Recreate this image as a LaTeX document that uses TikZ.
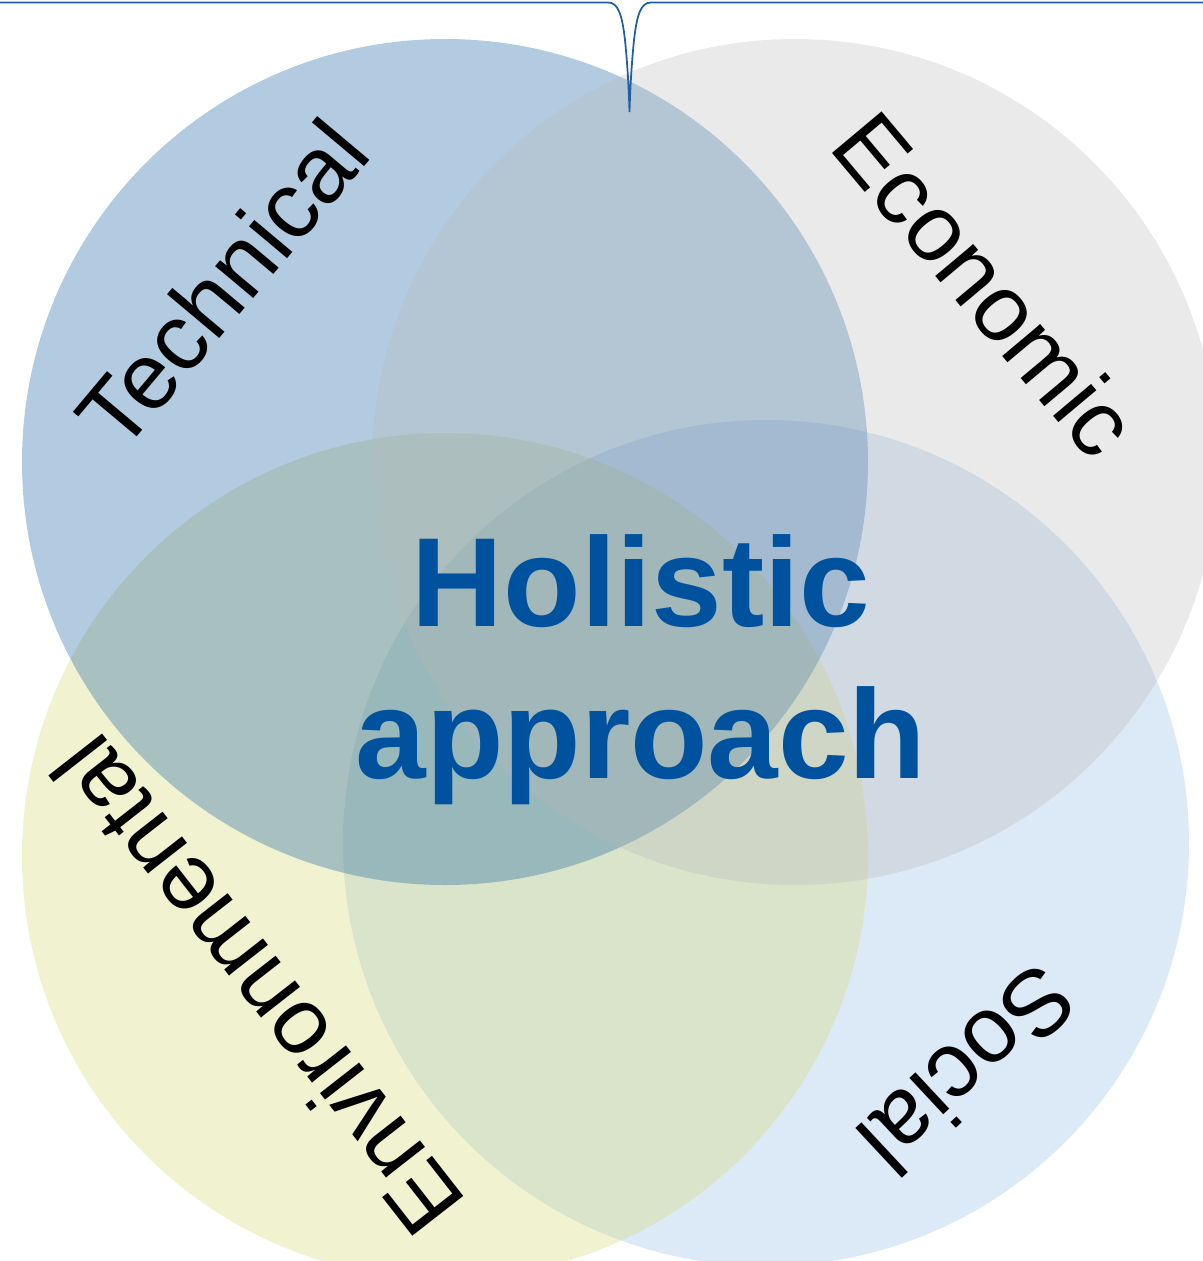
\documentclass[tikz,border=0pt]{standalone}
\usepackage{fontspec}
\setmainfont{Liberation Sans}
\usetikzlibrary{positioning,calc}
\definecolor{techblue}{RGB}{2,82,155}
\definecolor{econgrey}{RGB}{185,185,185}
\definecolor{envgreen}{RGB}{214,220,128}
\definecolor{socblue}{RGB}{138,182,225}
\definecolor{holblue}{RGB}{0,82,158}
\definecolor{bracecol}{RGB}{31,95,168}
\newcommand{\vrad}{423}
\newcommand{\vcircle}[4]{
  \coordinate (#4) at #1;
  \fill [#2,fill opacity=#3] (#4) circle (\vrad);
}
\newcommand{\vlabel}[4]{
  \node [rotate=#2,font=\fontsize{53.5}{60}\selectfont] (#4) at #1 {#3};
}

\begin{document}
\begin{tikzpicture}[x=0.02cm,y=-0.02cm,inner sep=0pt]
  \useasboundingbox (0,0) rectangle (1203,1261);
  \clip (0,0) rectangle (1203,1261);

  \vcircle{(766,843)}{socblue}{0.3}{soc}
  \vcircle{(445,856)}{envgreen}{0.37}{env}
  \vcircle{(445,462)}{techblue}{0.3}{tech}
  \vcircle{(795,462)}{econgrey}{0.3}{econ}

  \vlabel{(222,284)}{50}{Technical}{ltech}
  \vlabel{(986,284)}{-50}{Economic}{lecon}
  \vlabel{(257,986)}{128}{Environmental}{lenv}
  \vlabel{(968,1070)}{223}{Social}{lsoc}

  \node [text=holblue,align=center,font=\bfseries\fontsize{72.2}{86.5}\selectfont]
    (hol) at (641,670) {Holistic\\approach};

  % brace along the top edge
  \draw [bracecol,line width=1pt] (0,2.5) -- (608,2.5)
    .. controls (618,2.5) and (622,14) .. (625,40)
    .. controls (628,70) and (629,95) .. (629.5,112)
    .. controls (630,95) and (631,70) .. (634,40)
    .. controls (637,14) and (641,2.5) .. (651,2.5) -- (1203,2.5);
\end{tikzpicture}
\end{document}
